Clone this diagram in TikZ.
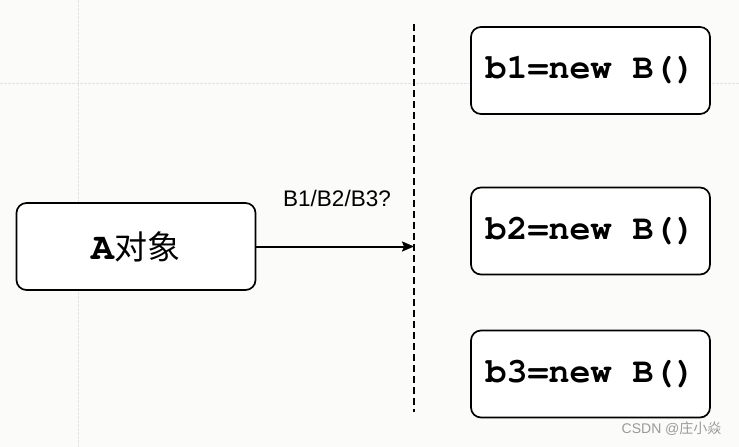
\documentclass[tikz,border=0pt]{standalone}
\usepackage{fontspec}
\setmainfont{Liberation Sans}
\newfontfamily\codefont{TeX Gyre Cursor}
\newfontfamily\cjk{Noto Sans CJK SC}
\usetikzlibrary{arrows.meta}
\definecolor{bg}{HTML}{FBFBFA}
\definecolor{gridc}{HTML}{E4E4E4}
\definecolor{wm}{HTML}{9A9A9A}
\begin{document}
\begin{tikzpicture}[x=1pt,y=-1pt,
  box/.style={draw=black, line width=1.7pt, rounded corners=10pt, fill=white,
    minimum width=239pt, minimum height=87pt, inner sep=0pt},
  codetext/.style={font=\codefont\bfseries\fontsize{35}{38}\selectfont},
  gridline/.style={draw=gridc, line width=0.8pt, dash pattern=on 3pt off 1pt}]
\useasboundingbox (0,0) rectangle (739,447);
\fill[bg] (0,0) rectangle (739,447);
% faint grid
\draw[gridline] (78,0) -- (78,447);
\draw[gridline] (0,83) -- (739,83);
% nodes
\node[box] (a) at (136,246.5) {{\codefont\bfseries\fontsize{38}{40}\selectfont A}{\cjk\fontsize{33}{36}\selectfont 对象}};
\node[box] (b1) at (590.5,70.5) {};
\node[codetext] at (b1) {b1=new B()};
\node[box] (b2) at (590.5,231) {};
\node[codetext] at (b2) {b2=new B()};
\node[box] (b3) at (590.5,374) {};
\node[codetext] at (b3) {b3=new B()};
% dashed divider
\coordinate (dtop) at (414,24);
\coordinate (dbot) at (414,412);
\draw[line width=1.8pt, dash pattern=on 7pt off 4pt] (dtop) -- (dbot);
% arrow
\draw[line width=2pt, -{Stealth[length=12pt,width=10pt,inset=2pt]}] (a.east) -- (a.east -| dtop);
\node[font=\fontsize{22.5}{25}\selectfont] (lbl) at (337,198.5) {B1/B2/B3?};
% watermark
\node[font=\fontsize{14}{16}\selectfont, text=wm, anchor=east] (wmk) at (725,429) {CSDN @{\cjk 庄小焱}};
\end{tikzpicture}
\end{document}
